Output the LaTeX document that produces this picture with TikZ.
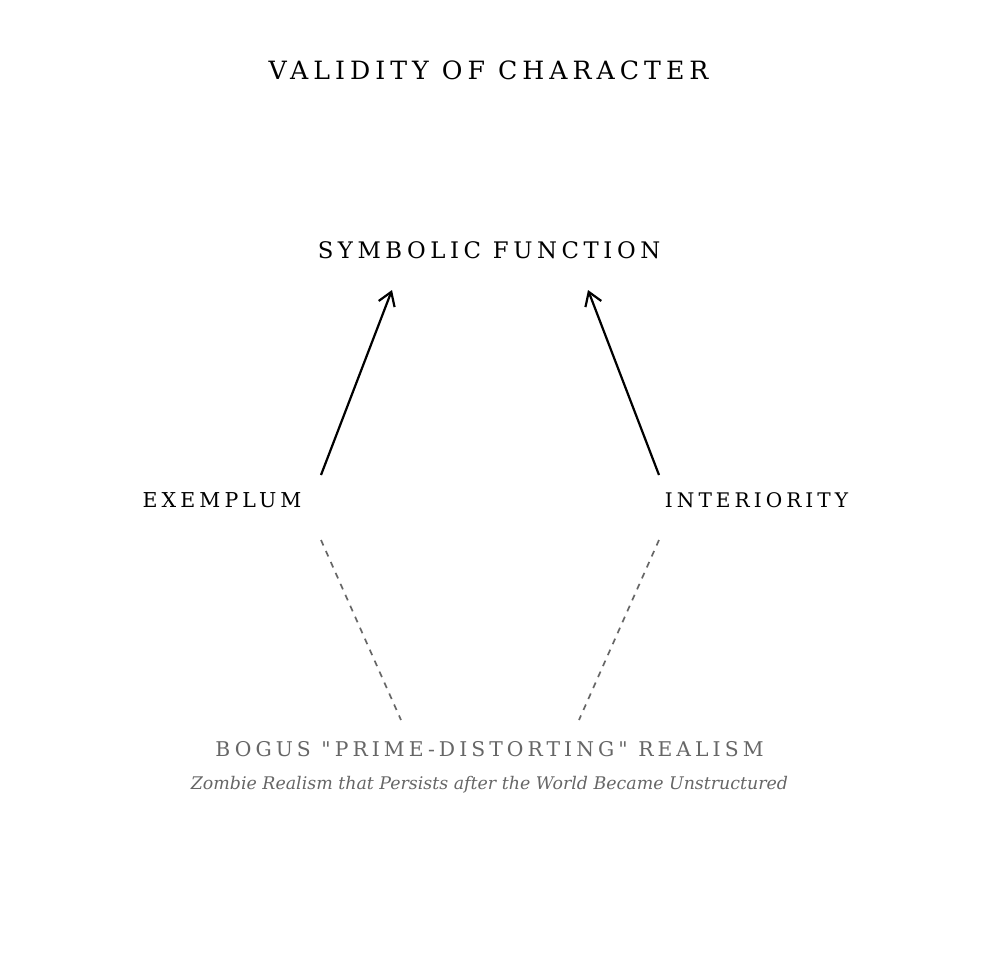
\documentclass[tikz,border=0pt]{standalone}
\usepackage{fontspec}
\setmainfont{DejaVu Serif}[Ligatures=TeXOff]
\usetikzlibrary{arrows.meta}
\definecolor{greytext}{HTML}{666666}
\begin{document}
\begin{tikzpicture}[x=1pt,y=-1pt,
  caps/.style={font=\addfontfeatures{LetterSpace=20}\fontsize{#1}{#1}\selectfont, inner sep=0pt, text=black},
  arr/.style={line width=2.2pt, black, -{Straight Barb[length=13pt,width=17pt,line width=2.2pt]}},
  dsh/.style={line width=1.7pt, greytext, dash pattern=on 6pt off 6pt}]
\useasboundingbox (0,0) rectangle (980,980);
\node[caps=25.2] (title) at (488.5,70) {VALIDITY OF CHARACTER};
\node[caps=22.8] (sym) at (489,250) {SYMBOLIC FUNCTION};
\node[caps=20.5] (ex) at (222,500) {EXEMPLUM};
\node[caps=20.1] (int) at (756.5,500) {INTERIORITY};
\node[caps=20.3, text=greytext] (bog) at (489.5,749) {BOGUS "PRIME-DISTORTING" REALISM};
\node[font=\itshape\fontsize{17.4}{17.4}\selectfont, text=greytext, inner sep=0pt] (sub) at (489.5,785) {Zombie Realism that Persists after the World Became Unstructured};
\coordinate (exT) at (321,475);
\coordinate (symL) at (392,290);
\coordinate (intT) at (659,475);
\coordinate (symR) at (588,290);
\coordinate (exB) at (321,540);
\coordinate (bogL) at (401,720);
\coordinate (intB) at (659,540);
\coordinate (bogR) at (579,720);
\draw[arr] (exT) -- (symL);
\draw[arr] (intT) -- (symR);
\draw[dsh] (exB) -- (bogL);
\draw[dsh] (intB) -- (bogR);
\end{tikzpicture}
\end{document}
